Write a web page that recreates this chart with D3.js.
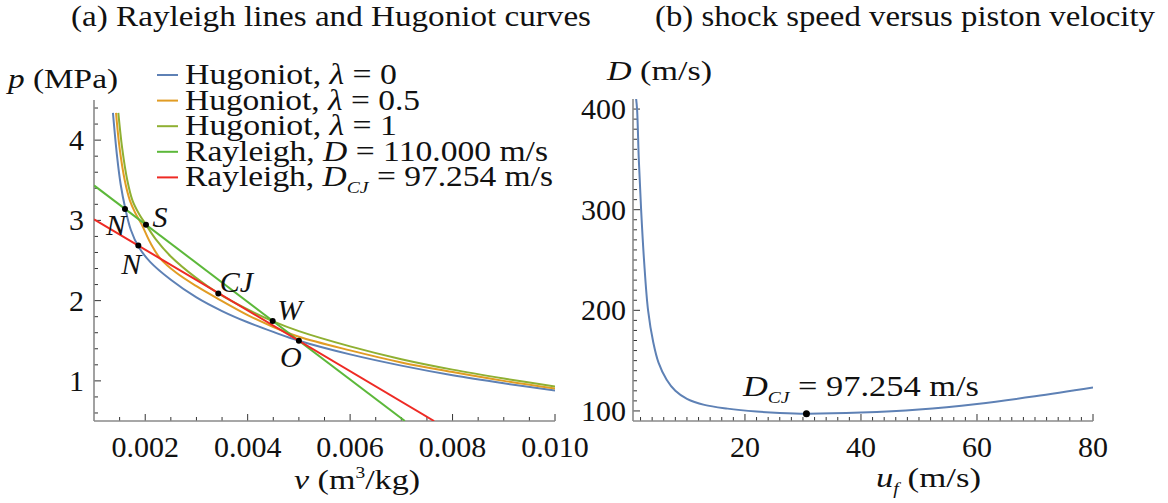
<!DOCTYPE html>
<html>
<head>
<meta charset="utf-8">
<script src="https://cdn.jsdelivr.net/npm/d3@7"></script>
<style>
body { margin: 0; background: #fff; }
svg { display: block; }
text { font-family: "Liberation Serif", "DejaVu Serif", serif; fill: #111; }
.it { font-style: italic; }
</style>
</head>
<body>
<svg width="1168" height="503"></svg>
<script>
// ---- data ----
// (a) Hugoniot curves, [v (m3/kg), p (MPa)]
var hug0 = [[0.00137,4.34],[0.00145,3.8],[0.00152,3.45],[0.00161,3.15],[0.00172,2.88],[0.00187,2.67],[0.0021,2.48],[0.0025,2.26],[0.003,2.04],[0.0035,1.87],[0.004,1.73],[0.0045,1.61],[0.005,1.5],[0.006,1.33],[0.007,1.19],[0.008,1.07],[0.009,0.97],[0.01,0.88]];
var hug05 = [[0.00143,4.34],[0.0015,3.9],[0.0016,3.5],[0.0017,3.25],[0.0018,3.1],[0.00193,2.95],[0.0021,2.72],[0.0023,2.52],[0.0026,2.35],[0.003,2.18],[0.00343,2.02],[0.004,1.82],[0.00449,1.675],[0.005,1.55],[0.006,1.38],[0.007,1.23],[0.008,1.11],[0.009,1.0],[0.01,0.905]];
var hug1 = [[0.001475,4.34],[0.00155,3.9],[0.00165,3.5],[0.00175,3.25],[0.00188,3.08],[0.002015,2.946],[0.0022,2.77],[0.0025,2.55],[0.003,2.28],[0.003427,2.09],[0.004,1.89],[0.004488,1.745],[0.005,1.62],[0.006,1.43],[0.007,1.27],[0.008,1.14],[0.009,1.03],[0.01,0.93]];
// Rayleigh lines, end points
var ray110 = [[0.001,3.436],[0.00707,0.5]];
var rayCJ = [[0.001,3.013],[0.00764,0.5]];
// marked points
var pts = [
  {name:"N", v:0.001605, p:3.143, dx:-9, dy:16},
  {name:"S", v:0.002015, p:2.946, dx:14, dy:-8},
  {name:"N", v:0.001865, p:2.686, dx:-7, dy:18},
  {name:"CJ", v:0.003427, p:2.09, dx:18, dy:-11},
  {name:"W", v:0.004488, p:1.745, dx:17, dy:-11},
  {name:"O", v:0.005, p:1.5, dx:-8, dy:16}
];
var vTicks = [0.002,0.004,0.006,0.008,0.010];
var pTicks = [1,2,3,4];

// (b) shock speed D (m/s) against piston velocity u_f (m/s)
var uf = [1.2,1.4,1.7,2.1,2.6,3.3,4.2,5.1,6.5,8,10,13,17,22,26,30.6,40,50,60,70,80];
var Dv = [412,400,350,300,250,200,168,148,131,120,112,106,102.3,99.4,98,97.25,98.4,101.5,107,114.5,123.3];
var cjPoint = [30.6, 97.254];
var uTicks = [20,40,60,80];
var DTicks = [100,200,300,400];

var legendItems = [
  {c:"#5E81B5", t:"Hugoniot, ", m:"\u03bb", r:" = 0", w:212},
  {c:"#E19C24", t:"Hugoniot, ", m:"\u03bb", r:" = 0.5", w:235},
  {c:"#8FB032", t:"Hugoniot, ", m:"\u03bb", r:" = 1", w:212},
  {c:"#5CB83A", t:"Rayleigh, ", m:"D", r:" = 110.000 m/s", w:363},
  {c:"#EE2A24", t:"Rayleigh, ", m:"D", sub:"CJ", r:" = 97.254 m/s", w:368}
];

var svg = d3.select("svg");
var axisCol = "#8a8a8a";

// ---- panel (a) ----
var xa = d3.scaleLinear().domain([0.001, 0.010]).range([94, 555]);
var ya = d3.scaleLinear().domain([0.5, 4.5]).range([421, 100]);

function frame(x, y, xt, yt) {
	var g = svg.append("g");
	var x0 = x.range()[0], x1 = x.range()[1], y0 = y.range()[0], y1 = y.range()[1];
	xt.minor.forEach(function (t) {
		g.append("line").attr("x1", x(t)).attr("x2", x(t)).attr("y1", y0).attr("y2", y0 - (xt.major.indexOf(t) >= 0 ? 7 : 4))
			.attr("stroke", "#333").attr("stroke-width", 1);
	});
	yt.minor.forEach(function (t) {
		g.append("line").attr("y1", y(t)).attr("y2", y(t)).attr("x1", x0).attr("x2", x0 + (yt.major.indexOf(t) >= 0 ? 7 : 4))
			.attr("stroke", "#333").attr("stroke-width", 1);
	});
	g.append("line").attr("x1", x0).attr("x2", x1).attr("y1", y0).attr("y2", y0).attr("stroke", axisCol).attr("stroke-width", 1.6);
	g.append("line").attr("x1", x0).attr("x2", x0).attr("y1", y0).attr("y2", y1).attr("stroke", axisCol).attr("stroke-width", 1.6);
	return g;
}

function range(a, b, s) {
	var out = [];
	for (var i = 0; a + i * s <= b + s * 1e-6; i++) out.push(+(a + i * s).toFixed(6));
	return out;
}

frame(xa, ya,
	{minor: range(0.0015, 0.010, 0.0005), major: vTicks},
	{minor: range(0.6, 4.4, 0.2), major: pTicks});

svg.selectAll(".vt").data(vTicks).enter().append("text")
	.attr("x", function (d) { return xa(d); }).attr("y", 457)
	.attr("text-anchor", "middle").attr("font-size", 30)
	.text(function (d) { return d3.format(".3f")(d); });
svg.selectAll(".pt").data(pTicks).enter().append("text")
	.attr("x", 84).attr("y", function (d) { return ya(d) + 10; })
	.attr("text-anchor", "end").attr("font-size", 30)
	.text(function (d) { return d; });

svg.append("clipPath").attr("id", "clipa").append("rect")
	.attr("x", 94).attr("y", 100).attr("width", 461).attr("height", 321);

var lineA = d3.line().x(function (d) { return xa(d[0]); }).y(function (d) { return ya(d[1]); });
var lineAc = d3.line().curve(d3.curveCatmullRom.alpha(0.5)).x(function (d) { return xa(d[0]); }).y(function (d) { return ya(d[1]); });

var ga = svg.append("g").attr("clip-path", "url(#clipa)");
[[hug0, "#5E81B5"], [hug05, "#E19C24"], [hug1, "#8FB032"]].forEach(function (s) {
	ga.append("path").attr("d", lineAc(s[0])).attr("fill", "none").attr("stroke", s[1]).attr("stroke-width", 2);
});
ga.append("path").attr("d", lineA(ray110)).attr("fill", "none").attr("stroke", "#5CB83A").attr("stroke-width", 2);
ga.append("path").attr("d", lineA(rayCJ)).attr("fill", "none").attr("stroke", "#EE2A24").attr("stroke-width", 2);

svg.selectAll(".dot").data(pts).enter().append("circle")
	.attr("cx", function (d) { return xa(d.v); }).attr("cy", function (d) { return ya(d.p); })
	.attr("r", 3).attr("fill", "#000");
svg.selectAll(".lab").data(pts).enter().append("text")
	.attr("class", "it")
	.attr("x", function (d) { return xa(d.v) + d.dx; }).attr("y", function (d) { return ya(d.p) + d.dy + 10; })
	.attr("text-anchor", "middle").attr("font-size", 30)
	.text(function (d) { return d.name; });

// axis labels (a)
var pl = svg.append("text").attr("x", 8).attr("y", 88).attr("font-size", 28)
	.attr("textLength", 110).attr("lengthAdjust", "spacingAndGlyphs");
pl.append("tspan").attr("class", "it").text("p");
pl.append("tspan").text(" (MPa)");
var vl = svg.append("text").attr("x", 294).attr("y", 489).attr("font-size", 28)
	.attr("textLength", 126).attr("lengthAdjust", "spacingAndGlyphs");
vl.append("tspan").attr("class", "it").text("v");
vl.append("tspan").text(" (m");
vl.append("tspan").attr("font-size", 16).attr("dy", -11).text("3");
vl.append("tspan").attr("dy", 11).text("/kg)");

// legend
var lg = svg.append("g");
legendItems.forEach(function (d, i) {
	var y = 75 + i * 25.6;
	lg.append("line").attr("x1", 157).attr("x2", 178).attr("y1", y).attr("y2", y)
		.attr("stroke", d.c).attr("stroke-width", 2);
	var t = lg.append("text").attr("x", 185).attr("y", y + 9).attr("font-size", 29)
		.attr("textLength", d.w).attr("lengthAdjust", "spacingAndGlyphs");
	t.append("tspan").text(d.t);
	t.append("tspan").attr("class", "it").text(d.m);
	if (d.sub) {
		t.append("tspan").attr("class", "it").attr("font-size", 17).attr("dy", 7).text(d.sub);
		t.append("tspan").attr("dy", -7).text(d.r);
	} else {
		t.append("tspan").text(d.r);
	}
});

// ---- panel (b) ----
var xb = d3.scaleLinear().domain([0.7, 80]).range([633, 1093]);
var yb = d3.scaleLinear().domain([90, 410]).range([421, 99]);

frame(xb, yb,
	{minor: range(2, 80, 2), major: uTicks},
	{minor: range(100, 400, 10), major: DTicks});

svg.selectAll(".ut").data(uTicks).enter().append("text")
	.attr("x", function (d) { return xb(d); }).attr("y", 457)
	.attr("text-anchor", "middle").attr("font-size", 30)
	.text(function (d) { return d; });
svg.selectAll(".Dt").data(DTicks).enter().append("text")
	.attr("x", 626).attr("y", function (d) { return yb(d) + 10; })
	.attr("text-anchor", "end").attr("font-size", 30)
	.text(function (d) { return d; });

svg.append("clipPath").attr("id", "clipb").append("rect")
	.attr("x", 633).attr("y", 99).attr("width", 460).attr("height", 322);
var lineB = d3.line().curve(d3.curveCatmullRom.alpha(0.5))
	.x(function (d, i) { return xb(uf[i]); }).y(function (d) { return yb(d); });
svg.append("g").attr("clip-path", "url(#clipb)")
	.append("path").attr("d", lineB(Dv)).attr("fill", "none").attr("stroke", "#5E81B5").attr("stroke-width", 2);
svg.append("circle").attr("cx", xb(cjPoint[0])).attr("cy", yb(cjPoint[1])).attr("r", 3.5).attr("fill", "#000");

var cl = svg.append("text").attr("x", 743).attr("y", 396).attr("font-size", 30)
	.attr("textLength", 236).attr("lengthAdjust", "spacingAndGlyphs");
cl.append("tspan").attr("class", "it").text("D");
cl.append("tspan").attr("class", "it").attr("font-size", 17).attr("dy", 7).text("CJ");
cl.append("tspan").attr("dy", -7).text(" = 97.254 m/s");

var Dl = svg.append("text").attr("x", 607).attr("y", 80).attr("font-size", 28)
	.attr("textLength", 105).attr("lengthAdjust", "spacingAndGlyphs");
Dl.append("tspan").attr("class", "it").text("D");
Dl.append("tspan").text(" (m/s)");
var ul = svg.append("text").attr("x", 876).attr("y", 487).attr("font-size", 28)
	.attr("textLength", 105).attr("lengthAdjust", "spacingAndGlyphs");
ul.append("tspan").attr("class", "it").text("u");
ul.append("tspan").attr("class", "it").attr("font-size", 16).attr("dy", 7).text("f");
ul.append("tspan").attr("dy", -7).text(" (m/s)");

// titles
svg.append("text").attr("x", 71).attr("y", 26).attr("font-size", 29)
	.attr("textLength", 520).attr("lengthAdjust", "spacingAndGlyphs")
	.text("(a) Rayleigh lines and Hugoniot curves");
svg.append("text").attr("x", 655).attr("y", 26).attr("font-size", 29)
	.attr("textLength", 500).attr("lengthAdjust", "spacingAndGlyphs")
	.text("(b) shock speed versus piston velocity");
</script>
</body>
</html>
